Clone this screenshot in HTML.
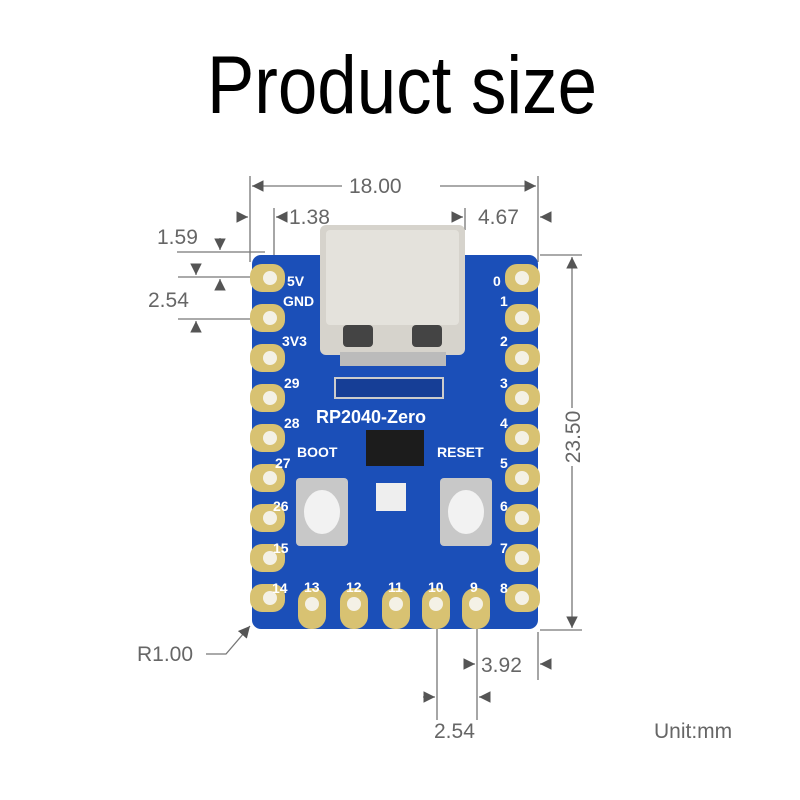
<!DOCTYPE html>
<html><head><meta charset="utf-8"><style>
html,body{margin:0;padding:0;background:#fff;width:800px;height:800px;overflow:hidden}
</style></head><body>
<svg width="800" height="800" viewBox="0 0 800 800" xmlns="http://www.w3.org/2000/svg" font-family="Liberation Sans, sans-serif">
<defs>
<marker id="a" viewBox="0 0 10 10" refX="10" refY="5" markerWidth="9" markerHeight="9" orient="auto-start-reverse"><path d="M0,0 L10,5 L0,10z" fill="#555"/></marker>
</defs>
<rect width="800" height="800" fill="#fff"/>
<text x="207" y="113" font-size="82" textLength="390" lengthAdjust="spacingAndGlyphs" fill="#000">Product size</text>

<g stroke="#777" stroke-width="1.3" fill="none">
<line x1="250" y1="176" x2="250" y2="262"/><line x1="538" y1="176" x2="538" y2="262"/>
<line x1="252" y1="186" x2="342" y2="186" marker-start="url(#a)"/>
<line x1="440" y1="186" x2="536" y2="186" marker-end="url(#a)"/>
<line x1="274" y1="208" x2="274" y2="258"/>
<line x1="238" y1="217" x2="248" y2="217" marker-end="url(#a)"/>
<line x1="286" y1="217" x2="276" y2="217" marker-end="url(#a)"/>
<line x1="465" y1="208" x2="465" y2="230"/>
<line x1="455" y1="217" x2="463" y2="217" marker-end="url(#a)"/>
<line x1="550" y1="217" x2="540" y2="217" marker-end="url(#a)"/>
<line x1="177" y1="252" x2="265" y2="252"/>
<line x1="220" y1="238" x2="220" y2="250" marker-end="url(#a)"/>
<line x1="178" y1="277" x2="258" y2="277"/><line x1="178" y1="319" x2="258" y2="319"/>
<line x1="196" y1="264" x2="196" y2="275" marker-end="url(#a)"/>
<line x1="220" y1="290" x2="220" y2="279" marker-end="url(#a)"/>
<line x1="196" y1="332" x2="196" y2="321" marker-end="url(#a)"/>
<line x1="540" y1="255" x2="582" y2="255"/><line x1="540" y1="630" x2="582" y2="630"/>
<line x1="572" y1="408" x2="572" y2="257" marker-end="url(#a)"/>
<line x1="572" y1="466" x2="572" y2="628" marker-end="url(#a)"/>
<line x1="437" y1="620" x2="437" y2="720"/><line x1="477" y1="620" x2="477" y2="720"/>
<line x1="538" y1="632" x2="538" y2="680"/>
<line x1="466" y1="664" x2="475" y2="664" marker-end="url(#a)"/>
<line x1="550" y1="664" x2="540" y2="664" marker-end="url(#a)"/>
<line x1="423" y1="697" x2="435" y2="697" marker-end="url(#a)"/>
<line x1="490" y1="697" x2="479" y2="697" marker-end="url(#a)"/>
<polyline points="206,654 226,654 250,626" marker-end="url(#a)"/>
</g>
<g fill="#666" font-size="21">
<text x="349" y="193">18.00</text>
<text x="289" y="224">1.38</text>
<text x="478" y="224">4.67</text>
<text x="157" y="244">1.59</text>
<text x="148" y="307">2.54</text>
<text x="137" y="661">R1.00</text>
<text x="481" y="672">3.92</text>
<text x="434" y="738">2.54</text>
<text x="654" y="738">Unit:mm</text>
<text transform="translate(580,437) rotate(-90)" text-anchor="middle">23.50</text>
</g>

<rect x="252" y="255" width="286" height="374" rx="9" fill="#1b4fb8"/>
<g fill="#d8c272">
<g id="lp">
<rect x="250" y="264" width="35" height="28" rx="12"/>
<rect x="250" y="304" width="35" height="28" rx="12"/>
<rect x="250" y="344" width="35" height="28" rx="12"/>
<rect x="250" y="384" width="35" height="28" rx="12"/>
<rect x="250" y="424" width="35" height="28" rx="12"/>
<rect x="250" y="464" width="35" height="28" rx="12"/>
<rect x="250" y="504" width="35" height="28" rx="12"/>
<rect x="250" y="544" width="35" height="28" rx="12"/>
<rect x="250" y="584" width="35" height="28" rx="12"/>
</g>
<use href="#lp" transform="translate(255,0)"/>
<rect x="298" y="588" width="28" height="41" rx="13"/>
<rect x="340" y="588" width="28" height="41" rx="13"/>
<rect x="382" y="588" width="28" height="41" rx="13"/>
<rect x="422" y="588" width="28" height="41" rx="13"/>
<rect x="462" y="588" width="28" height="41" rx="13"/>
</g>
<g fill="#f4f1e6">
<circle cx="270" cy="278" r="7"/><circle cx="270" cy="318" r="7"/><circle cx="270" cy="358" r="7"/><circle cx="270" cy="398" r="7"/><circle cx="270" cy="438" r="7"/><circle cx="270" cy="478" r="7"/><circle cx="270" cy="518" r="7"/><circle cx="270" cy="558" r="7"/><circle cx="270" cy="598" r="7"/>
<circle cx="522" cy="278" r="7"/><circle cx="522" cy="318" r="7"/><circle cx="522" cy="358" r="7"/><circle cx="522" cy="398" r="7"/><circle cx="522" cy="438" r="7"/><circle cx="522" cy="478" r="7"/><circle cx="522" cy="518" r="7"/><circle cx="522" cy="558" r="7"/><circle cx="522" cy="598" r="7"/>
<circle cx="312" cy="604" r="7"/><circle cx="354" cy="604" r="7"/><circle cx="396" cy="604" r="7"/><circle cx="436" cy="604" r="7"/><circle cx="476" cy="604" r="7"/>
</g>
<rect x="320" y="225" width="145" height="130" rx="6" fill="#d6d3cc"/>
<rect x="326" y="230" width="133" height="95" rx="4" fill="#e4e2dc"/>
<rect x="343" y="325" width="30" height="22" rx="4" fill="#444"/>
<rect x="412" y="325" width="30" height="22" rx="4" fill="#444"/>
<rect x="340" y="352" width="106" height="14" fill="#bbb"/>
<rect x="335" y="378" width="108" height="20" fill="#163e96" stroke="#ccc" stroke-width="2"/>
<rect x="366" y="430" width="58" height="36" fill="#1c1c1c"/>
<rect x="376" y="483" width="30" height="28" fill="#eee"/>
<rect x="296" y="478" width="52" height="68" rx="4" fill="#c8c8c8"/>
<ellipse cx="322" cy="512" rx="18" ry="22" fill="#f2f2f2"/>
<rect x="440" y="478" width="52" height="68" rx="4" fill="#c8c8c8"/>
<ellipse cx="466" cy="512" rx="18" ry="22" fill="#f2f2f2"/>
<g fill="#fff" font-weight="bold" font-size="14">
<text x="287" y="286">5V</text><text x="283" y="306">GND</text><text x="282" y="346">3V3</text>
<text x="284" y="388">29</text><text x="284" y="428">28</text><text x="275" y="468">27</text><text x="273" y="511">26</text><text x="273" y="553">15</text><text x="272" y="593">14</text>
<text x="493" y="286">0</text><text x="500" y="306">1</text><text x="500" y="346">2</text><text x="500" y="388">3</text><text x="500" y="428">4</text><text x="500" y="468">5</text><text x="500" y="511">6</text><text x="500" y="553">7</text><text x="500" y="593">8</text>
<text x="304" y="592">13</text><text x="346" y="592">12</text><text x="388" y="592">11</text><text x="428" y="592">10</text><text x="470" y="592">9</text>
<text x="297" y="457">BOOT</text><text x="437" y="457">RESET</text>
<text x="316" y="423" font-size="18">RP2040-Zero</text>
</g>
</svg>
</body></html>
